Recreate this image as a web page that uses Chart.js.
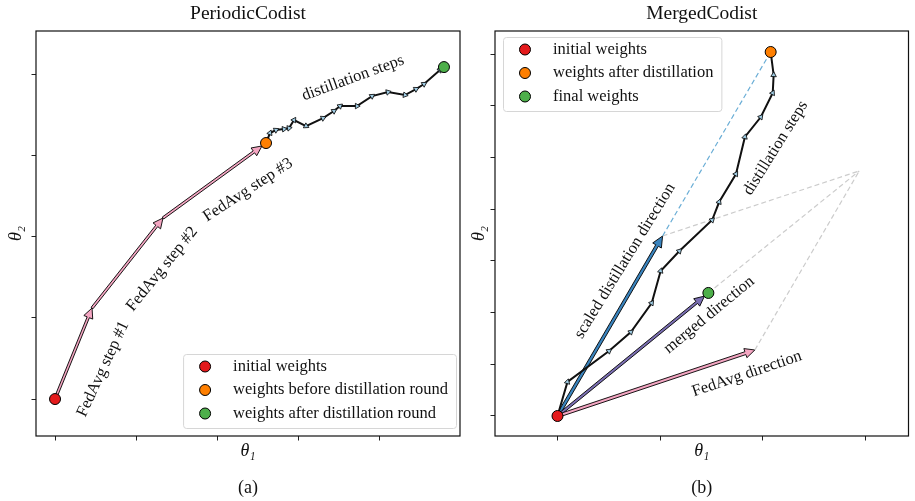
<!DOCTYPE html>
<html><head><meta charset="utf-8">
<script src="https://cdn.jsdelivr.net/npm/chart.js@4.4.1/dist/chart.umd.min.js"></script>
<style>
html,body{margin:0;padding:0;background:#fff;width:915px;height:501px;overflow:hidden}
.wrap{position:absolute;left:0;top:0;width:915px;height:501px}
canvas{position:absolute;left:0;top:0}
</style></head><body>
<div class="wrap"><canvas id="ca"></canvas></div>
<div class="wrap"><canvas id="cb"></canvas></div>
<script>
// ================= DATA =================
// Panel (a) PeriodicCodist
const aXTicks = [0, 1, 2, 3, 4];
const aYTicks = [0, 1, 2, 3, 4];
const aFedX = [0, 0.457, 1.333, 2.605];
const aFedY = [0, 1.12, 2.228, 3.151];
const aDistX = [2.605, 2.654, 2.728, 2.827, 2.889, 2.951, 3.099, 3.309, 3.444, 3.519, 3.728, 3.914, 4.111, 4.321, 4.457, 4.556, 4.753, 4.802];
const aDistY = [3.151, 3.274, 3.311, 3.323, 3.335, 3.434, 3.360, 3.458, 3.545, 3.606, 3.606, 3.729, 3.778, 3.742, 3.815, 3.877, 4.049, 4.086];
const aInitial = [0, 0];
const aBefore = [2.605, 3.151];
const aAfter = [4.802, 4.086];
const aLabels = ['initial weights', 'weights before distillation round', 'weights after distillation round'];

// Panel (b) MergedCodist
const bXTicks = [0, 1, 2, 3];
const bYTicks = [0, 1, 2, 3, 4, 5, 6, 7];
const bDistX = [0, 0.097, 0.502, 0.715, 0.918, 1.005, 1.188, 1.507, 1.575, 1.739, 1.826, 1.981, 2.097, 2.106, 2.077];
const bDistY = [0, 0.658, 1.257, 1.625, 2.186, 2.805, 3.191, 3.791, 4.139, 4.681, 5.397, 5.783, 6.248, 6.596, 7.041];
const bInitial = [0, 0];
const bAfterDist = [2.077, 7.041];
const bFinal = [1.47, 2.38];
const bFedAvgEnd = [1.923, 1.277];
const bScaledEnd = [1.024, 3.482];
const bSum = [2.94, 4.74];
const bLabels = ['initial weights', 'weights after distillation', 'final weights'];

// ================= STYLE / HELPERS =================
const FONT = '"Liberation Serif", "DejaVu Serif", serif';
const TXT = 16.5;
Chart.defaults.font.family = FONT;
function pts(xs, ys) { return xs.map((x, i) => ({ x: x, y: ys[i] })); }
function pt(p) { return [{ x: p[0], y: p[1] }]; }

function headRotation(ctx) {
  const i = ctx.dataIndex, d = ctx.dataset.data;
  if (!i) return 0;
  const sx = ctx.chart.scales.x, sy = ctx.chart.scales.y;
  const x0 = sx.getPixelForValue(d[i - 1].x), y0 = sy.getPixelForValue(d[i - 1].y);
  const x1 = sx.getPixelForValue(d[i].x), y1 = sy.getPixelForValue(d[i].y);
  return Math.atan2(y1 - y0, x1 - x0) * 180 / Math.PI + 90;
}

function dot(label, p, color) {
  return { label: label, legend: true, data: pt(p), pointRadius: 5.5, pointBackgroundColor: color,
    pointBorderColor: '#000', pointBorderWidth: 1, backgroundColor: color, order: 0 };
}
function pathDs(xs, ys) {
  return { data: pts(xs, ys), showLine: true, borderColor: '#111', borderWidth: 2, pointStyle: 'triangle',
    pointRadius: c => c.dataIndex ? 3.2 : 0, pointBackgroundColor: '#9ecae1', pointBorderColor: '#000',
    pointBorderWidth: 0.8, pointRotation: headRotation, order: 2 };
}
function arrowDs(xs, ys, style) {
  return { data: pts(xs, ys), showLine: false, pointRadius: 0, arrow: style, order: 3 };
}
function dashDs(a, b, color) {
  return { data: [{ x: a[0], y: a[1] }, { x: b[0], y: b[1] }], showLine: true, borderColor: color,
    borderWidth: 1.2, borderDash: [5, 3], pointRadius: 0, order: 4 };
}

function drawArrow(ctx, x0, y0, x1, y1, st, shrink) {
  const L = Math.hypot(x1 - x0, y1 - y0); const ux = (x1 - x0) / L, uy = (y1 - y0) / L;
  x1 -= ux * shrink; y1 -= uy * shrink;
  const nx = -uy, ny = ux;
  const bx = x1 - ux * st.hl, by = y1 - uy * st.hl;
  ctx.beginPath();
  ctx.moveTo(x0 + nx * st.w, y0 + ny * st.w);
  ctx.lineTo(bx + nx * st.w, by + ny * st.w);
  ctx.lineTo(bx + nx * st.hw, by + ny * st.hw);
  ctx.lineTo(x1, y1);
  ctx.lineTo(bx - nx * st.hw, by - ny * st.hw);
  ctx.lineTo(bx - nx * st.w, by - ny * st.w);
  ctx.lineTo(x0 - nx * st.w, y0 - ny * st.w);
  ctx.closePath();
  ctx.fillStyle = st.fill; ctx.fill();
  ctx.lineWidth = 0.9; ctx.strokeStyle = '#000'; ctx.lineJoin = 'miter'; ctx.stroke();
}

const arrowPlugin = {
  id: 'arrows',
  beforeDatasetsDraw(chart) {
    const ctx = chart.ctx; ctx.save();
    chart.data.datasets.forEach((ds, di) => {
      if (!ds.arrow) return;
      const P = chart.getDatasetMeta(di).data;
      for (let k = 0; k < P.length - 1; k++) {
        drawArrow(ctx, P[k].x, P[k].y, P[k + 1].x, P[k + 1].y, ds.arrow, k === P.length - 2 ? (ds.arrow.shrink || 0) : 0);
      }
    });
    ctx.restore();
  }
};

const framePlugin = {
  id: 'frame',
  afterDraw(chart) {
    const { ctx, chartArea: a } = chart; ctx.save();
    ctx.strokeStyle = '#111'; ctx.lineWidth = 1.2;
    ctx.strokeRect(a.left, a.top, a.right - a.left, a.bottom - a.top);
    ctx.restore();
  }
};

const notesPlugin = {
  id: 'notes',
  afterDatasetsDraw(chart, args, opts) {
    const ctx = chart.ctx, sx = chart.scales.x, sy = chart.scales.y;
    ctx.save();
    ctx.font = TXT + 'px ' + FONT; ctx.fillStyle = '#111';
    ctx.textAlign = 'center'; ctx.textBaseline = 'middle';
    (opts.items || []).forEach(n => {
      ctx.save();
      ctx.translate(sx.getPixelForValue(n.x), sy.getPixelForValue(n.y));
      ctx.rotate(n.angle * Math.PI / 180);
      ctx.fillText(n.text, 0, 0);
      ctx.restore();
    });
    ctx.restore();
  }
};

const legendPlugin = {
  id: 'boxLegend',
  afterDraw(chart, args, opts) {
    const ctx = chart.ctx, a = chart.chartArea;
    const items = chart.data.datasets.filter(d => d.legend);
    ctx.save();
    ctx.font = TXT + 'px ' + FONT;
    const tw = Math.max(...items.map(d => ctx.measureText(d.label).width));
    const W = 50 + tw + 8, H = 74;
    const left = opts.corner === 'br' ? a.right - opts.dx - W : a.left + opts.dx;
    const top = opts.corner === 'br' ? a.bottom - opts.dy - H : a.top + opts.dy;
    ctx.beginPath();
    ctx.roundRect(left + 0.5, top + 0.5, W, H, 3);
    ctx.fillStyle = 'rgba(255,255,255,0.85)'; ctx.fill();
    ctx.strokeStyle = '#d6d6d6'; ctx.lineWidth = 1; ctx.stroke();
    items.forEach((d, i) => {
      const y = top + 12.5 + i * 23.5;
      ctx.beginPath(); ctx.arc(left + 22, y, 5.5, 0, Math.PI * 2);
      ctx.fillStyle = d.pointBackgroundColor; ctx.fill();
      ctx.strokeStyle = '#000'; ctx.lineWidth = 1; ctx.stroke();
      ctx.fillStyle = '#111'; ctx.textAlign = 'left'; ctx.textBaseline = 'middle';
      ctx.fillText(d.label, left + 50, y);
    });
    ctx.restore();
  }
};

function build(id, P) {
  const grid = { display: true, drawOnChartArea: false, drawTicks: true, tickLength: 4.5, color: '#222', lineWidth: 1 };
  return new Chart(document.getElementById(id), {
    type: 'scatter',
    data: { datasets: P.datasets },
    options: {
      responsive: true, maintainAspectRatio: false, animation: false, events: [],
      layout: { padding: P.padding },
      scales: {
        x: { type: 'linear', min: P.xMin, max: P.xMax,
          afterBuildTicks: s => { s.ticks = P.xTicks.map(v => ({ value: v })); },
          afterFit: s => { s.height = 28; },
          ticks: { display: false }, grid: grid, border: { display: false },
          title: { display: true, text: 'θ₁', color: '#111', font: { size: 18, style: 'italic', family: FONT }, padding: { top: 0, bottom: 1.5 } } },
        y: { type: 'linear', min: P.yMin, max: P.yMax,
          afterBuildTicks: s => { s.ticks = P.yTicks.map(v => ({ value: v })); },
          afterFit: s => { s.width = P.yWidth; },
          ticks: { display: false }, grid: grid, border: { display: false },
          title: { display: true, text: 'θ₂', color: '#111', font: { size: 18, style: 'italic', family: FONT }, padding: { top: P.yTitlePad, bottom: 0 } } }
      },
      plugins: {
        legend: { display: false }, tooltip: { enabled: false },
        title: { display: true, text: P.title, fullSize: false, color: '#111',
          font: { size: 19.5, family: FONT, weight: 'normal' }, padding: { top: 2, bottom: 5.6 } },
        subtitle: { display: true, text: P.sub, position: 'bottom', fullSize: false, color: '#111',
          font: { size: 18, family: FONT, weight: 'normal' }, padding: { top: 13, bottom: 2.4 } },
        boxLegend: P.legend,
        notes: { items: P.notes }
      }
    },
    plugins: [arrowPlugin, notesPlugin, legendPlugin, framePlugin]
  });
}

const PINK = '#f4a6c2';

build('ca', {
  title: 'PeriodicCodist', sub: '(a)',
  padding: { left: 0, right: 455, top: 0, bottom: 0 }, yWidth: 36, yTitlePad: 5,
  xMin: -0.235, xMax: 5.0, yMin: -0.455, yMax: 4.53, xTicks: aXTicks, yTicks: aYTicks,
  legend: { corner: 'br', dx: 4, dy: 8 },
  notes: [
    { text: 'FedAvg step #1', x: 0.593, y: 0.369, angle: -65 },
    { text: 'FedAvg step #2', x: 1.321, y: 1.60, angle: -51 },
    { text: 'FedAvg step #3', x: 2.383, y: 2.572, angle: -33 },
    { text: 'distillation steps', x: 3.679, y: 3.951, angle: -20 }
  ],
  datasets: [
    dot(aLabels[0], aInitial, '#e41a1c'),
    dot(aLabels[1], aBefore, '#ff7f00'),
    dot(aLabels[2], aAfter, '#4daf4a'),
    pathDs(aDistX, aDistY),
    arrowDs(aFedX, aFedY, { fill: PINK, w: 1.2, hw: 4.8, hl: 10, shrink: 5 })
  ]
});

build('cb', {
  title: 'MergedCodist', sub: '(b)',
  padding: { left: 465, right: 3, top: 0, bottom: 0 }, yWidth: 30, yTitlePad: 3,
  xMin: -0.609, xMax: 3.42, yMin: -0.387, yMax: 7.447, xTicks: bXTicks, yTicks: bYTicks,
  legend: { corner: 'tl', dx: 8, dy: 6 },
  notes: [
    { text: 'scaled distillation direction', x: 0.657, y: 2.998, angle: -58.5 },
    { text: 'distillation steps', x: 2.126, y: 5.184, angle: -58 },
    { text: 'merged direction', x: 1.478, y: 1.954, angle: -39.6 },
    { text: 'FedAvg direction', x: 1.845, y: 0.812, angle: -18.7 }
  ],
  datasets: [
    dot(bLabels[0], bInitial, '#e41a1c'),
    dot(bLabels[1], bAfterDist, '#ff7f00'),
    dot(bLabels[2], bFinal, '#4daf4a'),
    pathDs(bDistX, bDistY),
    arrowDs([bInitial[0], bScaledEnd[0]], [bInitial[1], bScaledEnd[1]], { fill: '#3a84be', w: 1.5, hw: 5, hl: 11, shrink: 0 }),
    arrowDs([bInitial[0], bFinal[0]], [bInitial[1], bFinal[1]], { fill: '#7b6fb3', w: 1.3, hw: 4.8, hl: 10, shrink: 5 }),
    arrowDs([bInitial[0], bFedAvgEnd[0]], [bInitial[1], bFedAvgEnd[1]], { fill: PINK, w: 1.5, hw: 4.8, hl: 10, shrink: 0 }),
    dashDs(bScaledEnd, bAfterDist, '#6baed6'),
    dashDs(bScaledEnd, bSum, '#cccccc'),
    dashDs(bFedAvgEnd, bSum, '#cccccc'),
    dashDs(bFinal, bSum, '#cccccc')
  ]
});
</script>
</body></html>
